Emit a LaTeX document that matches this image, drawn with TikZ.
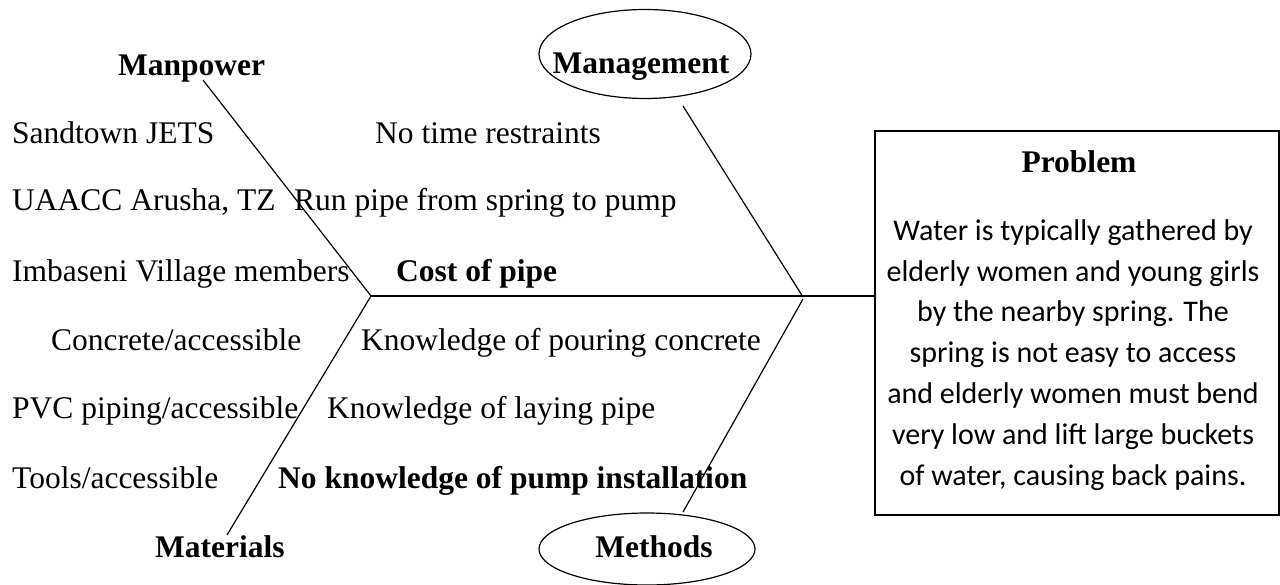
\documentclass[tikz,border=0pt]{standalone}
\usepackage{fontspec}
\setmainfont{Liberation Serif}
\newfontfamily\calibri{Carlito}
\usetikzlibrary{shapes.geometric}
\begin{document}
\begin{tikzpicture}[x=1pt,y=-1pt,
  txt/.style={inner sep=0pt, anchor=base west, font=\fontsize{31.5}{37}\selectfont},
  btxt/.style={txt, font=\fontsize{31.5}{37}\selectfont\bfseries},
  bone/.style={line width=1.2pt},
  spine/.style={line width=2pt},
  oval/.style={draw, ellipse, line width=1.2pt, inner sep=0pt}]
\useasboundingbox (0,0) rectangle (1280,584);
% junctions and bone ends
\coordinate (j1) at (371,296);
\coordinate (j2) at (803,297);
\coordinate (j2b) at (803,299);
\coordinate (mpend) at (203,80);
\coordinate (matend) at (227,535);
\coordinate (mgend) at (683,106);
\coordinate (meend) at (683,512);
% problem box
\node[draw, line width=2pt, minimum width=404pt, minimum height=384pt, inner sep=0pt] (box) at (1077,323) {};
\node[inner sep=0pt, anchor=base, font=\fontsize{31.5}{37}\selectfont\bfseries] (prob) at (1079,172) {Problem};
\node[inner sep=0pt, anchor=base, align=center, font=\calibri\fontsize{30}{40.8}\selectfont] (desc) at (1073,485)
  {Water is typically gathered by\\elderly women and young girls\\by the nearby spring. The\\spring is not easy to access\\and elderly women must bend\\very low and lift large buckets\\of water, causing back pains.};
% ovals
\node[oval, minimum width=212pt, minimum height=89pt] (mgoval) at (645,54) {};
\node[btxt, anchor=base] (mg) at (641,73) {Management};
\node[oval, minimum width=216pt, minimum height=72pt] (meoval) at (647,549) {};
\node[btxt, anchor=base] (me) at (654,557) {Methods};
% categories
\node[btxt] (mp) at (118,75) {Manpower};
\node[btxt] (mat) at (155,557) {Materials};
% causes
\node[txt] (c1) at (12,143) {Sandtown JETS};
\node[txt] (c2) at (12,210) {UAACC Arusha, TZ};
\node[txt] (c3) at (12,281) {Imbaseni Village members};
\node[txt] (c4) at (51,350) {Concrete/accessible};
\node[txt] (c5) at (12,418) {PVC piping/accessible};
\node[txt] (c6) at (12,488) {Tools/accessible};
\node[txt] (d1) at (375,143) {No time restraints};
\node[txt] (d2) at (294,210) {Run pipe from spring to pump};
\node[btxt] (d3) at (396,281) {Cost of pipe};
\node[txt] (d4) at (361,350) {Knowledge of pouring concrete};
\node[txt] (d5) at (327,418) {Knowledge of laying pipe};
\node[btxt] (d6) at (278,488) {No knowledge of pump installation};
% bones
\draw[bone] (mpend) -- (j1);
\draw[bone] (j1) -- (matend);
\draw[bone] (mgend) -- (j2);
\draw[bone] (j2b) -- (meend);
\draw[spine] (j1) -- (j1 -| box.west);
\end{tikzpicture}
\end{document}
